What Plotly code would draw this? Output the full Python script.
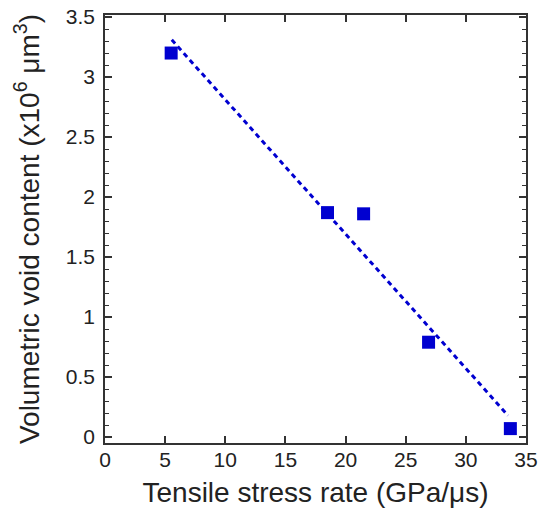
import plotly.graph_objects as go

# Data
stress_rate = [5.5, 18.5, 21.5, 26.9, 33.7]          # GPa/us
void_content = [3.20, 1.87, 1.86, 0.79, 0.07]       # x10^6 um^3

# dashed fit line endpoints (as drawn)
fit_x = [5.55, 33.5]
fit_y = [3.31, 0.18]

x_ticks = [0, 5, 10, 15, 20, 25, 30, 35]
y_ticks = [0, 0.5, 1, 1.5, 2, 2.5, 3, 3.5]
y_tick_text = ["0", "0.5", "1", "1.5", "2", "2.5", "3", "3.5"]

blue = "#0000D0"
font_family = "Liberation Sans, Arial, sans-serif"
text_color = "#222222"

fig = go.Figure()
fig.add_trace(go.Scatter(
    x=fit_x, y=fit_y, mode="lines",
    line=dict(color=blue, width=3, dash="5px,4px"),
    showlegend=False, hoverinfo="skip",
))
fig.add_trace(go.Scatter(
    x=stress_rate, y=void_content, mode="markers",
    marker=dict(symbol="square", size=13, color=blue),
    showlegend=False,
))

axis_common = dict(
    showline=True, linecolor="#333333", linewidth=1.5, mirror="ticks",
    ticks="inside", tickcolor="#333333", tickwidth=1.5, ticklen=7,
    showgrid=False, zeroline=False, automargin=False,
    tickfont=dict(family=font_family, size=21, color=text_color),
)

fig.update_layout(
    width=546, height=515,
    margin=dict(l=105, r=20, t=15, b=72),
    paper_bgcolor="white", plot_bgcolor="white",
    font=dict(family=font_family, color=text_color),
    xaxis=dict(
        range=[0, 35], tickvals=x_ticks, ticklabelstandoff=-3,
        title=dict(text="Tensile stress rate (GPa/μs)",
                   font=dict(family=font_family, size=28, color=text_color),
                   standoff=12),
        **axis_common,
    ),
    yaxis=dict(
        range=[-0.05, 3.517], tickvals=y_ticks, ticktext=y_tick_text,
        ticklabelstandoff=4,
        minor=dict(dtick=0.1, tick0=0, ticks="inside", ticklen=4,
                   tickcolor="#333333", tickwidth=1),
        title=dict(text="Volumetric void content (x10<sup>6</sup> μm<sup>3</sup>)",
                   font=dict(family=font_family, size=28, color=text_color),
                   standoff=18),
        **axis_common,
    ),
)

fig.write_html("out.html",
               config={"displayModeBar": False},
               post_script="document.body.style.margin='0';document.body.style.overflow='hidden';")
